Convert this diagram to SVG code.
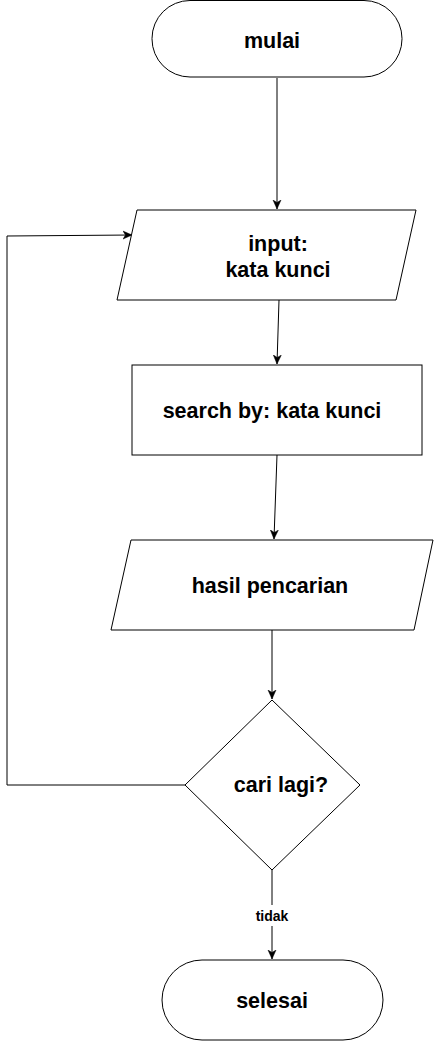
<svg xmlns="http://www.w3.org/2000/svg" width="435" height="1041" viewBox="0 0 435 1041">
<style>
.shape{fill:#fff;stroke:#000;stroke-width:1}
.lbl{font-family:"Liberation Sans",Arial,sans-serif;font-weight:bold;font-size:21.5px;fill:#000;text-anchor:middle}
.edge{fill:none;stroke:#000;stroke-width:1}
.elbl{font-family:"Liberation Sans",Arial,sans-serif;font-weight:bold;font-size:14px;fill:#000;text-anchor:middle}
</style>
<defs>
<marker id="arr" markerUnits="userSpaceOnUse" markerWidth="10" markerHeight="10" viewBox="0 0 10 10" refX="9" refY="5" orient="auto">
<path d="M0,1 L9,5 L0,9 L2.5,5 z" fill="#000" stroke="#000" stroke-width="0.5"/>
</marker>
</defs>
<rect width="435" height="1041" fill="#fff"/>
<g id="connectors">
<path class="edge" d="M277,78 L277,209" marker-end="url(#arr)"/>
<path class="edge" d="M279,300 L277,364" marker-end="url(#arr)"/>
<path class="edge" d="M277,455 L274,539" marker-end="url(#arr)"/>
<path class="edge" d="M272,630 L272,699" marker-end="url(#arr)"/>
<path class="edge" d="M185,785 L7,785 L7,236 L132,235" marker-end="url(#arr)"/>
<path class="edge" d="M272,870 L272,959" marker-end="url(#arr)"/>
<rect x="252" y="905" width="40" height="21" fill="#fff"/>
<text class="elbl" x="272" y="921">tidak</text>
</g>
<g id="mulai">
<rect class="shape" x="152" y="0.5" width="250" height="76.5" rx="38" ry="38"/>
<text class="lbl" x="272" y="48">mulai</text>
</g>
<g id="input">
<polygon class="shape" points="137,210 416,210 396,300 117,300"/>
<text class="lbl" x="278" y="251">input:</text>
<text class="lbl" x="278" y="277">kata kunci</text>
</g>
<g id="search">
<rect class="shape" x="132" y="365" width="290" height="90"/>
<text class="lbl" x="272" y="418">search by: kata kunci</text>
</g>
<g id="hasil">
<polygon class="shape" points="131,540 433,540 414,630 111,630"/>
<text class="lbl" x="270" y="593">hasil pencarian</text>
</g>
<g id="cari">
<polygon class="shape" points="272,700 360,785 272,870 185,785"/>
<text class="lbl" x="281" y="792">cari lagi?</text>
</g>
<g id="selesai">
<rect class="shape" x="162" y="960" width="221" height="80" rx="40" ry="40"/>
<text class="lbl" x="272" y="1008">selesai</text>
</g>
</svg>
